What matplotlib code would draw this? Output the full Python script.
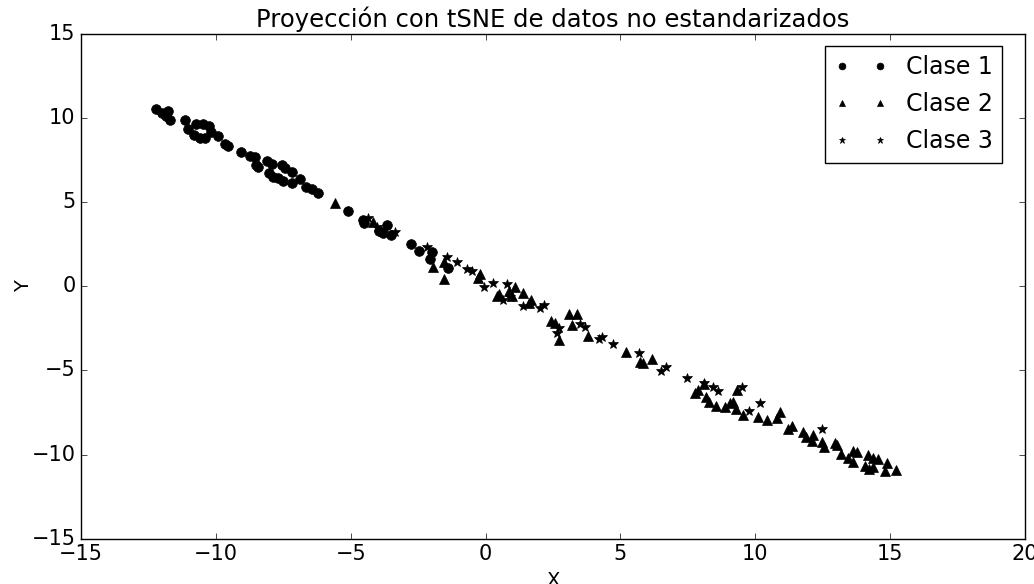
import matplotlib
matplotlib.use("Agg")
import matplotlib.pyplot as plt

plt.style.use("classic")

# proyeccion tSNE, clase 1 (circulos)
x1 = [-12.22, -12.00, -11.77, -11.85, -11.70, -11.14, -11.03, -10.74, -10.48, -10.25,
      -10.18, -10.81, -10.59, -10.40, -9.92, -9.66, -9.55, -9.07, -8.73, -8.55,
      -8.51, -8.44, -8.10, -7.92, -7.55, -7.44, -7.18, -8.03, -7.88, -7.70,
      -7.51, -7.18, -6.88, -6.66, -6.43, -6.21, -5.10, -4.54, -4.51, -3.95,
      -3.65, -3.80, -3.51, -2.76, -2.47, -1.99, -2.06, -1.39]
y1 = [10.52, 10.28, 10.40, 10.10, 9.86, 9.86, 9.33, 9.62, 9.62, 9.50,
      9.15, 8.97, 8.80, 8.80, 8.91, 8.44, 8.32, 7.96, 7.73, 7.67,
      7.19, 7.08, 7.43, 7.25, 7.19, 7.01, 6.78, 6.72, 6.48, 6.42,
      6.25, 6.13, 6.36, 5.89, 5.77, 5.53, 4.46, 3.93, 3.75, 3.28,
      3.63, 3.16, 3.04, 2.50, 2.09, 2.03, 1.61, 1.08]

# clase 2 (triangulos)
x2 = [-5.58, -4.17, -1.95, -1.54, -1.54, -0.21, -0.28, 0.50, 0.42, 0.87,
      1.09, 0.98, 1.39, 1.69, 1.61, 2.43, 2.58, 3.09, 3.39, 3.21,
      2.72, 3.80, 5.21, 5.73, 5.84, 6.17, 7.77, 7.88, 8.10, 8.17,
      8.29, 8.55, 8.88, 9.06, 9.18, 9.29, 9.32, 9.55, 10.10, 10.44,
      10.81, 10.92, 11.21, 11.36, 11.77, 11.88, 12.14, 12.10, 12.48, 12.55,
      12.96, 13.03, 13.18, 13.44, 13.62, 13.77, 13.62, 14.18, 14.37, 14.55,
      14.07, 14.22, 14.37, 14.89, 14.81, 15.22]
y2 = [4.94, 3.81, 1.14, 1.44, 0.43, 0.72, 0.49, -0.46, -0.58, -0.28,
      -0.05, -0.58, -0.40, -0.82, -1.00, -2.07, -2.18, -1.65, -1.65, -2.30,
      -3.19, -2.96, -3.91, -4.50, -4.56, -4.32, -6.34, -6.16, -5.80, -6.58,
      -6.87, -7.11, -7.17, -6.93, -6.87, -7.29, -6.16, -7.64, -7.76, -7.94,
      -7.82, -7.47, -8.47, -8.30, -8.65, -8.95, -8.83, -9.19, -9.25, -9.54,
      -9.31, -9.42, -9.96, -10.20, -9.78, -9.84, -10.43, -10.02, -10.20, -10.26,
      -10.67, -10.85, -10.73, -10.49, -10.97, -10.91]

# clase 3 (estrellas)
x3 = [-4.36, -4.02, -3.36, -2.17, -1.43, -1.06, -0.69, -0.50, -0.06, 0.28,
      0.80, 0.65, 0.91, 1.39, 2.02, 2.17, 2.72, 2.65, 3.50, 3.69,
      4.21, 4.32, 4.73, 5.69, 6.51, 6.69, 7.47, 8.10, 8.43, 8.62,
      9.51, 10.18, 9.77, 12.48]
y3 = [4.05, 3.51, 3.22, 2.33, 1.73, 1.44, 1.02, 0.90, -0.05, 0.19,
      0.13, -0.82, -0.64, -1.18, -1.29, -1.12, -2.48, -2.78, -2.24, -2.42,
      -3.13, -3.01, -3.43, -3.96, -5.03, -4.80, -5.45, -5.74, -5.98, -6.22,
      -5.98, -6.93, -7.41, -8.47]

fig = plt.figure(figsize=(10.34, 5.84), dpi=100, facecolor="white")
ax = fig.add_axes([0.0783, 0.0776, 0.913, 0.8647])

ax.plot(x1, y1, "ko", markersize=7, label="Clase 1")
ax.plot(x2, y2, "k^", markersize=7, label="Clase 2")
ax.plot(x3, y3, "k*", markersize=7, label="Clase 3")

ax.set_xlim(-15, 20)
ax.set_ylim(-15, 15)
ax.tick_params(labelsize=15)
ax.set_title("Proyección con tSNE de datos no estandarizados", fontsize=17.5)
ax.set_xlabel("X", fontsize=14)
ax.set_ylabel("Y", fontsize=14, labelpad=-1.5)

ax.legend(loc="upper right", bbox_to_anchor=(0.9756, 0.9756), borderaxespad=0,
          numpoints=2, fontsize=17, markerscale=0.7, fancybox=False,
          labelspacing=0.55, handlelength=2.2)

fig.savefig("out.png", dpi=100, facecolor="white")
